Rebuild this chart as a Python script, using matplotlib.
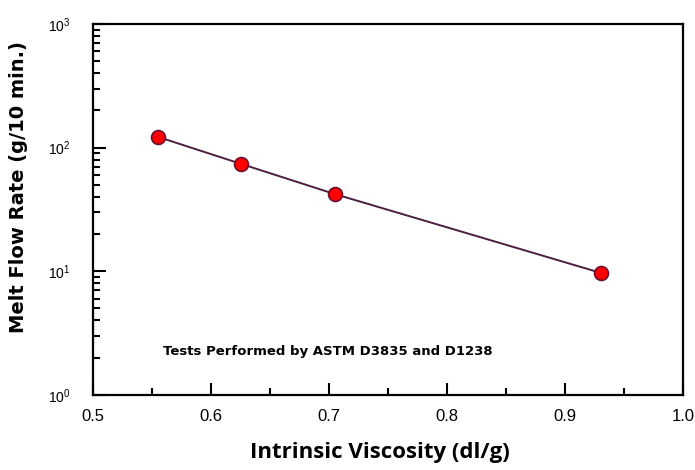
import matplotlib.pyplot as plt
from matplotlib.ticker import LogLocator, MultipleLocator

plt.rcParams['font.family'] = ['Liberation Sans', 'DejaVu Sans']

# data
viscosity = [0.555, 0.625, 0.705, 0.93]
melt_flow = [122, 74, 42, 9.7]

fig = plt.figure(figsize=(6.95, 4.70), dpi=100)
ax = fig.add_axes([0.134, 0.160, 0.849, 0.789])

ax.plot(viscosity, melt_flow, color='#4a2040', lw=1.4, zorder=2)
ax.plot(viscosity, melt_flow, 'o', ms=10, mfc='#ff0000', mec='#6a1030', mew=1.2,
        ls='none', zorder=3)

ax.set_yscale('log')
ax.set_xlim(0.5, 1.0)
ax.set_ylim(1, 1000)

ax.xaxis.set_major_locator(MultipleLocator(0.1))
ax.xaxis.set_minor_locator(MultipleLocator(0.05))
ax.xaxis.set_major_formatter(plt.FuncFormatter(lambda v, p: f'{v:.1f}'))
ax.yaxis.set_major_locator(LogLocator(base=10, numticks=10))
ax.yaxis.set_minor_locator(LogLocator(base=10, subs=range(2, 10), numticks=10))
ax.yaxis.set_minor_formatter(plt.NullFormatter())

ax.tick_params(which='both', direction='in', top=False, right=False, width=1.5)
ax.tick_params(which='major', length=9)
ax.tick_params(which='minor', length=5)
ax.tick_params(axis='x', pad=10, labelsize=12)
ax.tick_params(axis='y', pad=16, labelsize=10)
for s in ax.spines.values():
    s.set_linewidth(1.6)

ax.set_xlabel('Intrinsic Viscosity (dl/g)', fontsize=16, fontweight='bold',
              family=['Open Sans', 'DejaVu Sans'])
ax.xaxis.set_label_coords(0.486, -0.128)
ax.set_ylabel('Melt Flow Rate (g/10 min.)', fontsize=14, fontweight='bold',
              family=['DejaVu Sans'])
ax.yaxis.set_label_coords(-0.11, 0.56)

ax.text(0.699, 2.23, 'Tests Performed by ASTM D3835 and D1238', fontsize=9.5,
        fontweight='bold', family=['DejaVu Sans'], ha='center', va='center')

fig.savefig('out.png', dpi=100)
